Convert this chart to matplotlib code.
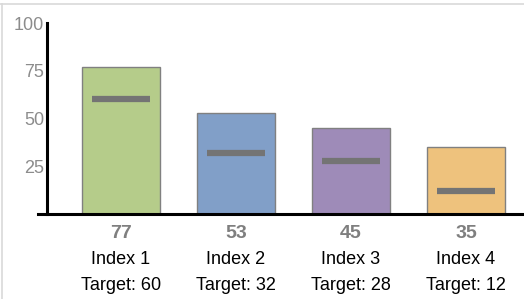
import matplotlib
matplotlib.use('Agg')
import matplotlib.pyplot as plt
from matplotlib.lines import Line2D

labels = ['Index 1', 'Index 2', 'Index 3', 'Index 4']
values = [77, 53, 45, 35]
targets = [60, 32, 28, 12]
colors = ['#B5CC8A', '#819FC8', '#9E8BB8', '#EEC27D']
yticks = [25, 50, 75, 100]

plt.rcParams['font.family'] = ['Liberation Sans', 'DejaVu Sans']

W, H = 524, 299
fig = plt.figure(figsize=(W / 100, H / 100), dpi=100)
# axes spans x 38..524 px, y 23..214 px
ax = fig.add_axes([38 / W, (H - 214) / H, (524 - 38) / W, (214 - 23) / H])

x = list(range(len(values)))
ax.bar(x, values, width=0.678, color=colors, edgecolor='#808080', linewidth=1.0, zorder=2)
ax.hlines(targets, [i - 0.252 for i in x], [i + 0.252 for i in x],
          colors='#747474', linewidth=4.5, zorder=3)

ax.set_xlim(-0.722, 3.504)
ax.set_ylim(0, 100)

for s in ['top', 'right']:
    ax.spines[s].set_visible(False)
ax.spines['left'].set_position(('data', -0.643))
ax.spines['left'].set_linewidth(2.2)
ax.spines['bottom'].set_linewidth(2.2)
ax.spines['left'].set_zorder(4)
ax.spines['bottom'].set_zorder(4)

ax.set_yticks(yticks)
ax.set_yticklabels([str(t) for t in yticks])
ax.tick_params(axis='y', length=0, pad=2, labelsize=13, labelcolor='#8C8C8C')
ax.set_xticks([])

for i, (v, lab, t) in enumerate(zip(values, labels, targets)):
    ax.annotate(str(v), xy=(i, 0), xycoords='data', xytext=(0, -19), textcoords='offset pixels',
                ha='center', va='center', fontsize=14, fontweight='bold', color='#7F7F7F')
    ax.annotate(lab, xy=(i, 0), xycoords='data', xytext=(0, -46), textcoords='offset pixels',
                ha='center', va='center', fontsize=13, color='#000000')
    ax.annotate('Target: %d' % t, xy=(i, 0), xycoords='data', xytext=(0, -71), textcoords='offset pixels',
                ha='center', va='center', fontsize=13, color='#000000')

# faint screenshot frame at top/left
fig.add_artist(Line2D([0, 1], [1 - 3.5 / H, 1 - 3.5 / H], color='#D9D9D9', linewidth=1.2))
fig.add_artist(Line2D([1.5 / W, 1.5 / W], [0, 1 - 3.5 / H], color='#D9D9D9', linewidth=1.2))

fig.savefig('out.png', dpi=100)
